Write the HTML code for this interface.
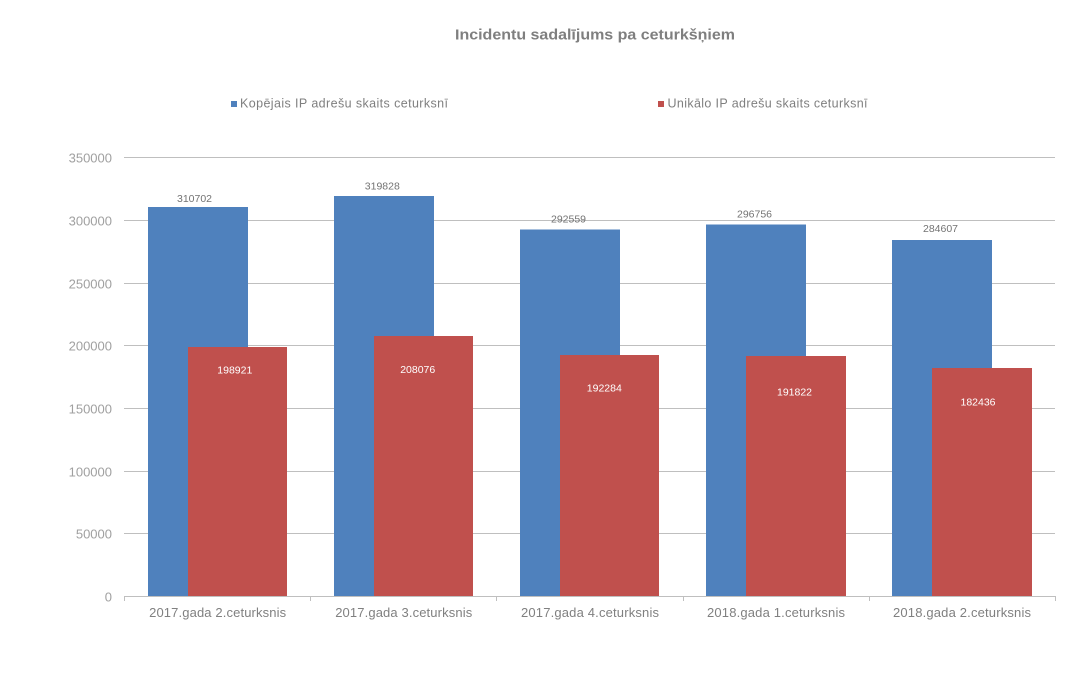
<!DOCTYPE html>
<html><head><meta charset="utf-8"><style>
html,body{margin:0;padding:0;background:#fff;}
svg{display:block;}
text{font-family:"Liberation Sans",Arial,sans-serif;}
</style></head><body>
<svg width="1078" height="691" viewBox="0 0 1078 691" xmlns="http://www.w3.org/2000/svg">
<rect width="1078" height="691" fill="#fff"/>
<text x="455" y="39.5" font-size="15" font-weight="bold" fill="#7f7f7f" textLength="280" lengthAdjust="spacingAndGlyphs">Incidentu sadalījums pa ceturkšņiem</text>
<!-- legend -->
<rect x="231" y="101" width="6" height="6" fill="#4f81bd"/>
<text x="240" y="107.7" font-size="12.5" fill="#7f7f7f" textLength="208" lengthAdjust="spacing">Kopējais IP adrešu skaits ceturksnī</text>
<rect x="658" y="101" width="6" height="6" fill="#c0504d"/>
<text x="667.5" y="107.7" font-size="12.5" fill="#7f7f7f" textLength="200" lengthAdjust="spacing">Unikālo IP adrešu skaits ceturksnī</text>
<!-- gridlines -->
<g stroke="#bfbfbf" stroke-width="1">
<line x1="124" y1="157.5" x2="1055" y2="157.5"/>
<line x1="124" y1="220.5" x2="1055" y2="220.5"/>
<line x1="124" y1="283.5" x2="1055" y2="283.5"/>
<line x1="124" y1="345.5" x2="1055" y2="345.5"/>
<line x1="124" y1="408.5" x2="1055" y2="408.5"/>
<line x1="124" y1="471.5" x2="1055" y2="471.5"/>
<line x1="124" y1="533.5" x2="1055" y2="533.5"/>
</g>
<!-- y labels -->
<g font-size="13" fill="#a0a0a0" text-anchor="end">
<text x="112" y="162.7">350000</text>
<text x="112" y="225.7">300000</text>
<text x="112" y="288.7">250000</text>
<text x="112" y="350.7">200000</text>
<text x="112" y="413.7">150000</text>
<text x="112" y="476.7">100000</text>
<text x="112" y="538.7">50000</text>
<text x="112" y="601.7">0</text>
</g>
<!-- blue bars -->
<g fill="#4f81bd">
<rect x="148" y="207" width="100" height="389.5"/>
<rect x="334" y="196" width="100" height="400.5"/>
<rect x="520" y="229.5" width="100" height="367"/>
<rect x="706" y="224.5" width="100" height="372"/>
<rect x="892" y="240" width="100" height="356.5"/>
</g>
<!-- red bars -->
<g fill="#c0504d">
<rect x="188" y="347" width="99" height="249.5"/>
<rect x="374" y="336" width="99" height="260.5"/>
<rect x="560" y="355" width="99" height="241.5"/>
<rect x="746" y="356" width="100" height="240.5"/>
<rect x="932" y="368" width="100" height="228.5"/>
</g>
<!-- axis -->
<g stroke="#bfbfbf" stroke-width="1">
<line x1="124" y1="596.5" x2="1055" y2="596.5"/>
<line x1="124.5" y1="596" x2="124.5" y2="601"/>
<line x1="310.5" y1="596" x2="310.5" y2="601"/>
<line x1="496.5" y1="596" x2="496.5" y2="601"/>
<line x1="683.5" y1="596" x2="683.5" y2="601"/>
<line x1="869.5" y1="596" x2="869.5" y2="601"/>
<line x1="1055.5" y1="596" x2="1055.5" y2="601"/>
</g>
<!-- blue data labels -->
<g font-size="10.5" fill="#737373" text-anchor="middle">
<text x="194.5" y="202" textLength="35" lengthAdjust="spacing">310702</text>
<text x="382.3" y="189.5" textLength="35" lengthAdjust="spacing">319828</text>
<text x="568.5" y="222.5" textLength="35" lengthAdjust="spacing">292559</text>
<text x="754.5" y="217.5" textLength="35" lengthAdjust="spacing">296756</text>
<text x="940.5" y="232" textLength="35" lengthAdjust="spacing">284607</text>
</g>
<!-- red data labels -->
<g font-size="10.5" fill="#ffffff" text-anchor="middle">
<text x="234.8" y="373.3" textLength="35" lengthAdjust="spacing">198921</text>
<text x="417.7" y="373" textLength="35" lengthAdjust="spacing">208076</text>
<text x="604.3" y="391.7" textLength="35" lengthAdjust="spacing">192284</text>
<text x="794.5" y="395.7" textLength="35" lengthAdjust="spacing">191822</text>
<text x="978" y="405.7" textLength="35" lengthAdjust="spacing">182436</text>
</g>
<!-- x labels -->
<g font-size="13" fill="#808080" text-anchor="middle">
<text x="217.6" y="617" textLength="137" lengthAdjust="spacing">2017.gada  2.ceturksnis</text>
<text x="403.7" y="617" textLength="137" lengthAdjust="spacing">2017.gada  3.ceturksnis</text>
<text x="590" y="617" textLength="138" lengthAdjust="spacing">2017.gada  4.ceturksnis</text>
<text x="776" y="617" textLength="138" lengthAdjust="spacing">2018.gada  1.ceturksnis</text>
<text x="962" y="617" textLength="138" lengthAdjust="spacing">2018.gada  2.ceturksnis</text>
</g>
</svg>
</body></html>
